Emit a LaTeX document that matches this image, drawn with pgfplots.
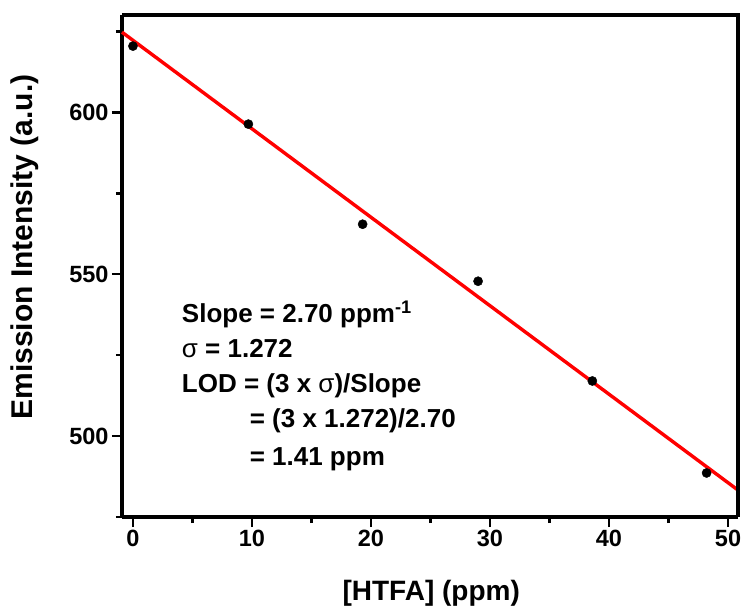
\documentclass[border=0pt]{standalone}
\usepackage{pgfplots}
\pgfplotsset{compat=1.18}
\usepackage{fontspec}
\setmainfont{Liberation Sans}
\begin{document}
\begin{tikzpicture}
\path[use as bounding box] (-122pt,-93pt) rectangle (621pt,517pt);
\begin{axis}[
  at={(0,0)}, anchor=south west,
  scale only axis, width=616pt, height=502pt,
  xmin=-0.92, xmax=50.84, ymin=475, ymax=630,
  axis line style={line width=3.2pt},
  axis x line*=bottom, axis y line*=left,
  xtick={0,10,20,30,40,50}, minor xtick={5,15,25,35,45},
  ytick={500,550,600}, minor ytick={475,525,575,625},
  tick align=outside,
  major tick length=10pt, minor tick length=6pt,
  tick style={line width=2.8pt, black},
  /pgf/number format/assume math mode=true,
  tick label style={font=\fontsize{23.5}{23.5}\selectfont\bfseries},
  xlabel={[HTFA] (ppm)},
  ylabel={Emission Intensity (a.u.)},
  xlabel style={font=\fontsize{28}{28}\selectfont\bfseries, at={(axis description cs:0.502,-0.1514)}, anchor=center},
  ylabel style={font=\fontsize{30}{30}\selectfont\bfseries, at={(axis description cs:-0.1575,0.538)}, anchor=center, rotate=0},
  clip=false,
]
\addplot[red, line width=3.4pt] coordinates {(-0.92,624.7) (50.84,483.3)};
\addplot[only marks, mark=*, mark size=4.6pt, mark options={fill=black, draw=black}] coordinates {
(0,620.4) (9.7,596.3) (19.3,565.4) (29.0,547.8) (38.6,517.0) (48.2,488.6)};
\node[anchor=base west, font=\fontsize{26}{26}\selectfont\bfseries, inner sep=0pt] at (axis cs:4.1,535.2) {Slope = 2.70 ppm\textsuperscript{-1}};
\node[anchor=base west, font=\fontsize{26}{26}\selectfont\bfseries, inner sep=0pt] at (axis cs:4.1,524.1) {{\mdseries σ} = 1.272};
\node[anchor=base west, font=\fontsize{26}{26}\selectfont\bfseries, inner sep=0pt] at (axis cs:4.1,513.3) {LOD = (3 x {\mdseries σ})/Slope};
\node[anchor=base west, font=\fontsize{26}{26}\selectfont\bfseries, inner sep=0pt] at (axis cs:9.8,502.5) {= (3 x 1.272)/2.70};
\node[anchor=base west, font=\fontsize{26}{26}\selectfont\bfseries, inner sep=0pt] at (axis cs:9.8,491.0) {= 1.41 ppm};
\end{axis}
\draw[line width=3.2pt] (0,502pt) -- (616pt,502pt) -- (616pt,0);
\end{tikzpicture}
\end{document}
